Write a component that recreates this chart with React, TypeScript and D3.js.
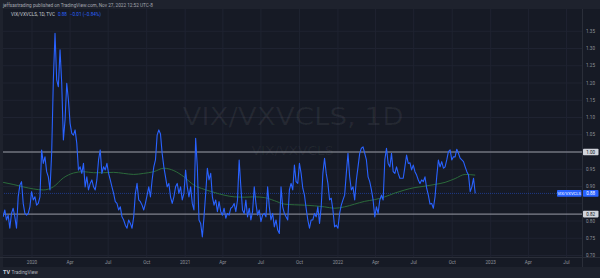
import React from "react";
import * as d3 from "d3";

const W = 600;
const H = 278;

// ---- data ----
const seriesStart = "2019-10-24";
const seriesStepDays = 4;
const ratioValues = [
  0.812, 0.832, 0.803, 0.817, 0.779, 0.822, 0.837, 0.812, 0.779, 0.870,
  0.904, 0.914, 0.851, 0.822, 0.817, 0.822, 0.841, 0.885, 0.861, 0.870,
  0.846, 0.851, 0.870, 1.006, 0.967, 0.986, 0.943, 0.928, 0.890, 0.997,
  1.209, 1.344, 1.209, 1.189, 1.296, 1.199, 1.035, 1.093, 1.199, 1.151,
  1.083, 1.054, 1.049, 1.064, 1.025, 0.948, 0.957, 0.938, 0.967, 0.899,
  0.928, 0.890, 0.909, 0.919, 0.899, 0.890, 0.919, 0.977, 1.006, 0.938,
  0.957, 0.948, 0.967, 0.938, 0.919, 0.899, 0.880, 0.856, 0.851, 0.832,
  0.841, 0.812, 0.803, 0.788, 0.779, 0.803, 0.793, 0.779, 0.812, 0.880,
  0.909, 0.861, 0.856, 0.846, 0.832, 0.851, 0.875, 0.899, 0.870, 0.919,
  0.957, 0.977, 1.049, 1.064, 1.052, 0.996, 0.957, 0.928, 0.899, 0.909,
  0.870, 0.851, 0.870, 0.899, 0.909, 0.880, 0.899, 0.861, 0.880, 0.948,
  0.899, 0.870, 0.899, 0.851, 0.832, 1.040, 0.957, 0.803, 0.793, 0.754,
  0.812, 0.880, 0.953, 0.919, 0.938, 0.870, 0.846, 0.861, 0.827, 0.856,
  0.827, 0.817, 0.837, 0.808, 0.822, 0.817, 0.837, 0.841, 0.851, 0.827,
  0.861, 0.977, 0.899, 0.832, 0.822, 0.861, 0.812, 0.837, 0.803, 0.827,
  0.899, 0.851, 0.817, 0.832, 0.798, 0.817, 0.822, 0.812, 0.899, 0.841,
  0.803, 0.822, 0.783, 0.803, 0.774, 0.764, 0.899, 0.841, 0.822, 0.812,
  0.803, 0.890, 0.909, 0.890, 0.962, 0.914, 0.909, 0.967, 0.938, 0.895,
  0.875, 0.837, 0.803, 0.779, 0.803, 0.803, 0.822, 0.812, 0.841, 0.793,
  0.841, 0.938, 0.982, 0.938, 0.909, 0.861, 0.866, 0.832, 0.783, 0.788,
  0.779, 0.822, 0.846, 0.861, 0.875, 0.938, 0.996, 0.928, 0.890, 0.899,
  0.861, 0.919, 0.957, 0.996, 1.011, 1.015, 0.996, 0.977, 0.928, 0.914,
  0.890, 0.861, 0.812, 0.841, 0.822, 0.861, 0.875, 0.861, 0.977, 1.011,
  0.967, 0.957, 0.996, 0.943, 0.938, 0.957, 0.938, 0.924, 0.924, 0.924,
  0.957, 0.991, 0.967, 0.969, 0.948, 0.962, 0.943, 0.933, 0.919, 0.909,
  0.919, 0.914, 0.928, 0.895, 0.875, 0.849, 0.851, 0.837, 0.870, 0.928,
  0.977, 0.957, 0.972, 0.953, 0.957, 0.977, 1.001, 1.006, 0.977, 0.986,
  0.986, 1.008, 0.996, 0.982, 0.977, 0.972, 0.957, 0.943, 0.933, 0.885,
  0.899, 0.924, 0.880,
];

const maStepDays = 24;
const maValues = [
  0.912, 0.906, 0.899, 0.893, 0.890, 0.899, 0.925, 0.939, 0.943, 0.940,
  0.940, 0.941, 0.938, 0.935, 0.938, 0.943, 0.953, 0.946, 0.928, 0.904,
  0.892, 0.883, 0.875, 0.870, 0.869, 0.870, 0.868, 0.859, 0.849, 0.847,
  0.846, 0.844, 0.841, 0.837, 0.841, 0.849, 0.857, 0.862, 0.870, 0.881,
  0.890, 0.897, 0.901, 0.906, 0.912, 0.923, 0.935, 0.933,
];

const levelValues = [1.0, 0.82];
const lastValue = 0.88;
const yGridTicks = [0.7, 0.75, 0.8, 0.85, 0.9, 0.95, 1.0, 1.05, 1.1, 1.15, 1.2, 1.25, 1.3, 1.35];
const yLabelTicks = [0.7, 0.75, 0.8, 0.9, 0.95, 1.05, 1.1, 1.15, 1.2, 1.25, 1.3, 1.35];
const xTickDates = [
  "2020-01-01", "2020-04-01", "2020-07-01", "2020-10-01",
  "2021-01-01", "2021-04-01", "2021-07-01", "2021-10-01",
  "2022-01-01", "2022-04-01", "2022-07-01", "2022-10-01",
  "2023-01-01", "2023-04-01", "2023-07-01",
];
const xTickLabels = [
  "2020", "Apr", "Jul", "Oct", "2021", "Apr", "Jul", "Oct",
  "2022", "Apr", "Jul", "Oct", "2023", "Apr", "Jul",
];
const headerText = "jeffsaxtrading published on TradingView.com, Nov 27, 2022 12:52 UTC-8";
const legendTitle = "VIX/VXVCLS, 1D, TVC";
const legendValues = ["0.88", "\u22120.01 (\u22120.84%)"];
const watermark = "VIX/VXVCLS, 1D";
const watermarkSub = "VIX/VXVCLS";
const seriesName = "VIX/VXVCLS";

const parse = d3.utcParse("%Y-%m-%d");

export default function App() {
  const paneTop = 9;
  const paneBottom = 257;
  const paneRight = 582;
  const axisBottom = 267;

  const x = d3
    .scaleUtc()
    .domain([parse("2020-01-01")!, parse("2023-01-01")!])
    .range([32, 490.7]);
  const y = d3.scaleLinear().domain([0.7, 1.35]).range([255.5, 31.25]);

  const start = parse(seriesStart)!;
  const series = ratioValues.map((v, i) => ({ d: d3.utcDay.offset(start, i * seriesStepDays), v }));
  const ma = maValues.map((v, i) => ({ d: d3.utcDay.offset(start, i * maStepDays), v }));

  const line = d3
    .line<{ d: Date; v: number }>()
    .x((p) => x(p.d))
    .y((p) => y(p.v));
  const maLine = d3
    .line<{ d: Date; v: number }>()
    .x((p) => x(p.d))
    .y((p) => y(p.v))
    .curve(d3.curveMonotoneX);

  const bg = "#161a25";
  const panel = "#1e222d";
  const grid = "#1f2331";
  const border = "#2a2e39";
  const axisText = "#8f929b";
  const blue = "#2962ff";
  const font = "Roboto, 'Liberation Sans', sans-serif";

  return (
    <div>
      <style>{"body{margin:0;background:#161a25}"}</style>
      <svg width={W} height={H} style={{ display: "block" }} fontFamily={font}>
        <defs>
          <clipPath id="pane">
            <rect x={3} y={paneTop} width={paneRight - 3} height={paneBottom - paneTop} />
          </clipPath>
        </defs>
        <rect x={0} y={0} width={W} height={H} fill={bg} />
        {/* top strip */}
        <rect x={0} y={0} width={W} height={paneTop} fill={panel} />
        {/* left strip */}
        <rect x={0} y={paneTop} width={3} height={axisBottom - paneTop} fill={panel} />
        {/* bottom strip */}
        <rect x={0} y={axisBottom} width={W} height={H - axisBottom} fill={panel} />

        {/* grid */}
        <g clipPath="url(#pane)">
          {yGridTicks.map((t) => (
            <line key={"gy" + t} x1={0} x2={paneRight} y1={y(t)} y2={y(t)} stroke={grid} strokeWidth={1} />
          ))}
          {xTickDates.map((t) => (
            <line key={"gx" + t} x1={x(parse(t)!)} x2={x(parse(t)!)} y1={paneTop} y2={paneBottom} stroke={grid} strokeWidth={1} />
          ))}
        </g>

        {/* watermark */}
        <text x={293} y={125} textAnchor="middle" fontSize={25} fill="#ffffff" fillOpacity={0.06}
          fontFamily="'DejaVu Sans', sans-serif" textLength={221} lengthAdjust="spacingAndGlyphs">
          {watermark}
        </text>
        <text x={292.5} y={155} textAnchor="middle" fontSize={13} fill="#ffffff" fillOpacity={0.06}
          fontFamily="'DejaVu Sans', sans-serif" textLength={82} lengthAdjust="spacingAndGlyphs">
          {watermarkSub}
        </text>

        <g clipPath="url(#pane)">
          {/* last price line */}
          <line x1={0} x2={paneRight} y1={y(lastValue)} y2={y(lastValue)} stroke={blue} strokeOpacity={0.45}
            strokeWidth={1} strokeDasharray="1 1" />
          {/* levels */}
          {levelValues.map((v) => (
            <line key={"lv" + v} x1={0} x2={paneRight} y1={y(v)} y2={y(v)} stroke="#9a9da6" strokeWidth={1} />
          ))}
          <path d={maLine(ma) || ""} fill="none" stroke="#2b6a3b" strokeWidth={1} />
          <path d={line(series) || ""} fill="none" stroke={blue} strokeWidth={1.1} strokeLinejoin="round" />
        </g>

        {/* axis borders */}
        <line x1={paneRight + 0.5} x2={paneRight + 0.5} y1={paneTop} y2={axisBottom} stroke={border} />
        <line x1={0} x2={W} y1={paneBottom + 0.5} y2={paneBottom + 0.5} stroke={border} />

        {/* price axis labels */}
        {yLabelTicks.map((t) => (
          <text key={"yl" + t} x={590.5} y={y(t)} dy="0.35em" textAnchor="middle" fontSize={4.6} fill={axisText}>
            {d3.format(".2f")(t)}
          </text>
        ))}
        {levelValues.map((v) => (
          <g key={"lb" + v}>
            <rect x={583} y={y(v) - 3.3} width={15.5} height={6.6} rx={0.8} fill="#d1d4dc" />
            <text x={590.7} y={y(v)} dy="0.35em" textAnchor="middle" fontSize={4.6} fill="#131722">
              {d3.format(".2f")(v)}
            </text>
          </g>
        ))}
        <rect x={557} y={y(lastValue) - 3.3} width={24.5} height={6.6} rx={0.8} fill={blue} />
        <text x={569.2} y={y(lastValue)} dy="0.35em" textAnchor="middle" fontSize={4.2} fill="#ffffff">
          {seriesName}
        </text>
        <rect x={583} y={y(lastValue) - 3.3} width={15.5} height={6.6} rx={0.8} fill={blue} />
        <text x={590.7} y={y(lastValue)} dy="0.35em" textAnchor="middle" fontSize={4.6} fill="#ffffff">
          {d3.format(".2f")(lastValue)}
        </text>

        {/* time axis labels */}
        {xTickDates.map((t, i) => (
          <text key={"xl" + t} x={x(parse(t)!)} y={262} dy="0.35em" textAnchor="middle" fontSize={4.6} fill={axisText}>
            {xTickLabels[i]}
          </text>
        ))}

        {/* header */}
        <text x={3} y={5} dy="0.35em" fontSize={4.7} fill="#a3a6af">{headerText}</text>
        <text x={11} y={14.5} dy="0.35em" fontSize={4.6} fill="#c8cbd3">
          {legendTitle}
          <tspan dx={3} fill={blue}>{legendValues[0]}</tspan>
          <tspan dx={3} fill={blue}>{legendValues[1]}</tspan>
        </text>

        {/* branding */}
        <text x={3} y={272.5} dy="0.35em" fontSize={5.5} fontWeight={700} fill="#d1d4dc">TV</text>
        <text x={11.5} y={272.5} dy="0.35em" fontSize={4.8} fill="#b2b5be">TradingView</text>
      </svg>
    </div>
  );
}
